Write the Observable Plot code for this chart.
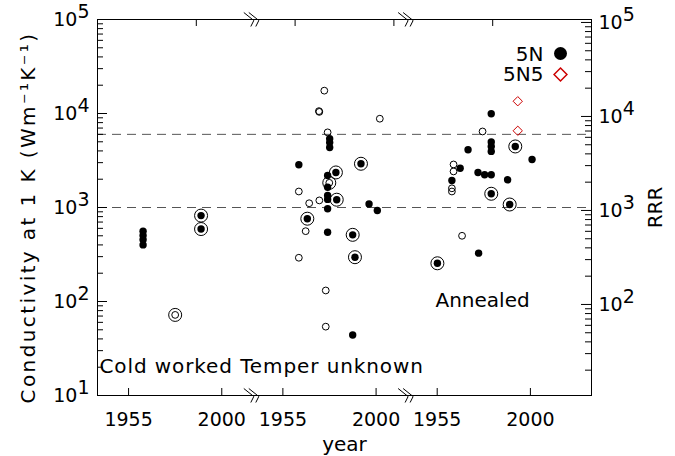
<!DOCTYPE html>
<html><head><meta charset="utf-8">
<script src="https://cdn.jsdelivr.net/npm/d3@7"></script>
<script src="https://cdn.jsdelivr.net/npm/@observablehq/plot@0.6"></script>
<style>body{margin:0;background:#fff;} svg{display:block}</style>
</head><body><div id="chart"></div>
<script>
// ---- data ----
const panels = ["Cold worked", "Temper unknown", "Annealed"];
const tickYears = [1955, 2000];
const dashedLevels = [1000, 6000];
const rrrMajor = [1e2, 1e3, 1e4, 1e5];
const RRR_TO_K = 0.93;

const samplePanel = [
  0,0,0,0,0,0,0,
  1,1,1,1,1,1,1,1,1,1,1,1,1,1,1,1,1,1,1,1,1,1,1,1,1,1,1,1,1,1,1,1,
  2,2,2,2,2,2,2,2,2,2,2,2,2,2,2,2,2,2,2,2,2,2,2,2,2
];
const sampleYear = [
  1962, 1962, 1962, 1962, 1990, 1990, 1977.5,
  1975.0, 1972.4, 1972.6, 2001.8, 1976.6, 1962.7, 1972.6, 1967.7, 1966.0, 1962.7, 1975.7, 1975.7,
  1977.4, 1977.6, 1977.6, 1977.6, 1962.7, 1976.6, 1976.6, 1976.6, 1976.6, 1976.6, 1996.6, 2000.6,
  1976.6, 1988.7, 1992.7, 1980.6, 1981.0, 1966.8, 1988.7, 1989.8,
  1993.9, 1993.9, 1976.9, 1962.9, 1962.9, 1962.1, 1962.1, 1967.0, 1981.1, 1981.1, 1981.1, 1981.1,
  1969.9, 2000.8, 1966.1, 1974.7, 1977.9, 1981.1, 1962.1, 1989.0, 1975.0, 1992.7, 1981.1, 1990.0, 1955.1
];
const sampleK = [
  560, 505, 455, 400, 820, 590, 72,
  17500, 10600, 10400, 8800, 6300, 1480, 1190, 1110, 560, 292, 131, 54,
  1830, 5400, 4900, 4350, 2850, 2190, 1640, 1340, 1220, 970, 1090, 930,
  546, 44, 2920, 2360, 1210, 760, 512, 296,
  13500, 6550, 6440, 2870, 2420, 1600, 1480, 500, 9930, 4980, 4460, 3950,
  4110, 3240, 2620, 2360, 2230, 2230, 1940, 1970, 327, 4460, 1400, 1076, 255
];
const sampleGrade = [
  "5N","5N","5N","5N","5N","5N","unspecified",
  "unspecified","unspecified","unspecified","unspecified","unspecified","unspecified","unspecified","unspecified","unspecified","unspecified","unspecified","unspecified",
  "unspecified","5N","5N","5N","5N","5N","5N","5N","5N","5N","5N","5N",
  "5N","5N","5N","5N","5N","5N","5N","5N",
  "5N5","5N5","unspecified","unspecified","unspecified","unspecified","unspecified","unspecified","5N","5N","5N","5N",
  "5N","5N","5N","5N","5N","5N","5N","5N","5N","5N","5N","5N","5N"
];
const sampleRinged = [
  0,0,0,0,1,1,1,
  0,0,0,0,0,0,0,0,0,0,0,0,
  1,0,0,0,0,0,0,0,0,0,0,0,
  0,0,1,1,1,1,1,1,
  0,0,0,0,0,0,0,0,0,0,0,0,
  0,0,0,0,0,0,0,0,0,1,1,1,1
];

// ---- layout helpers ----
const W = 675, H = 456, ML = 97, MR = 84, MT = 19, MB = 61;
const FW = W - ML - MR, FH = H - MT - MB;
const PANEL_START = 1940;
const PANEL_OFFSET = 74.5;
const X_END = 2178.5;
const Y_MIN = 10, Y_MAX = 1e5;
const PX_PER_X = FW / (X_END - PANEL_START);
const DECADES_PER_PX = Math.log10(Y_MAX / Y_MIN) / FH;
const data = samplePanel.map((p, i) => ({panel: p, year: sampleYear[i], k: sampleK[i], grade: sampleGrade[i], ringed: sampleRinged[i]}));
const pos = d => d.year + PANEL_OFFSET * d.panel;

const xTicks = [];
panels.forEach((_, p) => tickYears.forEach(y => xTicks.push({x: y + PANEL_OFFSET * p, label: String(y)})));
const topTicks = [0.2, 0.4, 0.6, 0.8].map(f => PANEL_START + (X_END - PANEL_START) * f);
const breaks = [1, 2].map(i => PANEL_START + PANEL_OFFSET * i);

const leftMajor = [1e1, 1e2, 1e3, 1e4, 1e5];
const leftMinor = [];
for (let e = 1; e < 5; e++) for (let m = 2; m <= 9; m++) leftMinor.push(m * 10 ** e);
const rightMinor = [];
for (let e = 1; e < 5; e++) for (let m = 2; m <= 9; m++) rightMinor.push(m * 10 ** e * RRR_TO_K);
const rightMajor = rrrMajor.map(r => ({k: r * RRR_TO_K, rrr: r}));

// inward tick segments (pixel lengths converted to scale units)
const hLen = px => px / PX_PER_X;
const vFac = px => 10 ** (px * DECADES_PER_PX);
const leftTick = (vals, px) => Plot.ruleY(vals, {y: d => d, x1: PANEL_START, x2: PANEL_START + hLen(px), stroke: "black", strokeWidth: 1});
const rightTick = (vals, px) => Plot.ruleY(vals, {y: d => d, x1: X_END - hLen(px), x2: X_END, stroke: "black", strokeWidth: 1});

const breakSymbol = {
  draw(ctx, size) {
    const s = Math.sqrt(size / Math.PI) / 8;
    for (const o of [-5, 0]) {
      ctx.moveTo((o - 3) * s, -7 * s);
      ctx.lineTo((o + 7) * s, 1 * s);
      ctx.lineTo((o + 4) * s, 7 * s);
    }
  }
};
const sup = d => "10^" + Math.round(Math.log10(d));
const T = {stroke: "black", fill: "none", strokeWidth: 1};
const txt = {lineAnchor: "middle", fill: "black"};

const svg = Plot.plot({
  width: W, height: H,
  marginLeft: ML, marginRight: MR, marginTop: MT, marginBottom: MB,
  style: {fontFamily: "DejaVu Sans", fontSize: "18px", color: "black", background: "white"},
  x: {type: "linear", domain: [PANEL_START, X_END], axis: null},
  y: {type: "log", domain: [Y_MIN, Y_MAX], axis: null},
  marks: [
    Plot.ruleY(dashedLevels, {stroke: "#555", strokeDasharray: "9,6"}),
    Plot.frame({stroke: "black"}),
    // left axis
    leftTick(leftMinor, 6),
    leftTick(leftMajor, 10),
    Plot.text(leftMajor, {y: d => d, text: sup, frameAnchor: "left", textAnchor: "end", dx: -8, fontSize: 19, ...txt}),
    // right axis (RRR)
    rightTick(rightMinor, 6),
    rightTick(rightMajor.map(d => d.k), 10),
    Plot.text(rightMajor, {y: "k", text: d => sup(d.rrr), frameAnchor: "right", textAnchor: "start", dx: 7, fontSize: 19, ...txt}),
    // x axes
    Plot.ruleX(xTicks, {x: "x", y1: Y_MIN, y2: Y_MIN * vFac(7), stroke: "black", strokeWidth: 1}),
    Plot.text(xTicks, {x: "x", text: "label", frameAnchor: "bottom", textAnchor: "middle", dy: 24.9, fontSize: 19, ...txt}),
    Plot.ruleX(topTicks, {x: d => d, y1: Y_MAX / vFac(7), y2: Y_MAX, stroke: "black", strokeWidth: 1}),
    Plot.dot(breaks, {x: d => d, frameAnchor: "top", symbol: breakSymbol, r: 8, ...T}),
    Plot.dot(breaks, {x: d => d, frameAnchor: "bottom", symbol: breakSymbol, r: 8, ...T}),
    // data
    Plot.dot(data.filter(d => d.ringed), {x: pos, y: "k", r: 6.5, ...T}),
    Plot.dot(data.filter(d => d.grade === "unspecified"), {x: pos, y: "k", r: 3.4, ...T}),
    Plot.dot(data.filter(d => d.grade === "5N"), {x: pos, y: "k", r: 3.7, fill: "black", stroke: "none"}),
    Plot.dot(data.filter(d => d.grade === "5N5"), {x: pos, y: "k", r: 4.2, symbol: "diamond2", stroke: "#cc0000", fill: "none", strokeWidth: 1}),
    // legend
    Plot.text(["5N"], {frameAnchor: "top-right", textAnchor: "end", dx: -48, dy: 34.6, fontSize: 20, ...txt}),
    Plot.text(["5N5"], {frameAnchor: "top-right", textAnchor: "end", dx: -48, dy: 54.6, fontSize: 20, ...txt}),
    Plot.dot(["5N"], {frameAnchor: "top-right", dx: -31, dy: 34, r: 6.5, fill: "black", stroke: "none"}),
    Plot.dot(["5N5"], {frameAnchor: "top-right", dx: -31, dy: 55, r: 5.8, symbol: "diamond2", stroke: "#cc0000", fill: "none"}),
    // annotations
    Plot.text([panels[0] + " " + panels[1]], {frameAnchor: "bottom-left", textAnchor: "start", dx: 2, dy: -29.4, fontSize: 20, ...txt}),
    Plot.text([panels[2]], {frameAnchor: "top-left", textAnchor: "start", dx: 338, dy: 280.6, fontSize: 20, ...txt}),
    Plot.text(["year"], {frameAnchor: "bottom", textAnchor: "middle", dy: 48.6, fontSize: 20, ...txt}),
    Plot.text(["Conductivity at 1 K (Wm⁻¹K⁻¹)"], {frameAnchor: "left", textAnchor: "middle", rotate: -90, dx: -68.5, dy: 10, fontSize: 20, ...txt}),
    Plot.text(["RRR"], {frameAnchor: "right", textAnchor: "middle", rotate: -90, dx: 64, dy: 0, fontSize: 20, ...txt})
  ]
});

// superscript exponents and letter spacing
const NS = "http://www.w3.org/2000/svg";
for (const t of svg.querySelectorAll("text")) {
  const m = /^10\^(\d)$/.exec(t.textContent);
  if (m) {
    t.textContent = "10";
    const s = document.createElementNS(NS, "tspan");
    s.setAttribute("dy", "-0.42em");
    s.textContent = m[1];
    t.appendChild(s);
  } else if (t.textContent.startsWith("Cold worked")) {
    t.setAttribute("letter-spacing", "0.9");
  } else if (t.textContent.startsWith("Conductivity")) {
    t.setAttribute("letter-spacing", "2.4");
  }
}
document.getElementById("chart").appendChild(svg);
</script>
</body></html>
